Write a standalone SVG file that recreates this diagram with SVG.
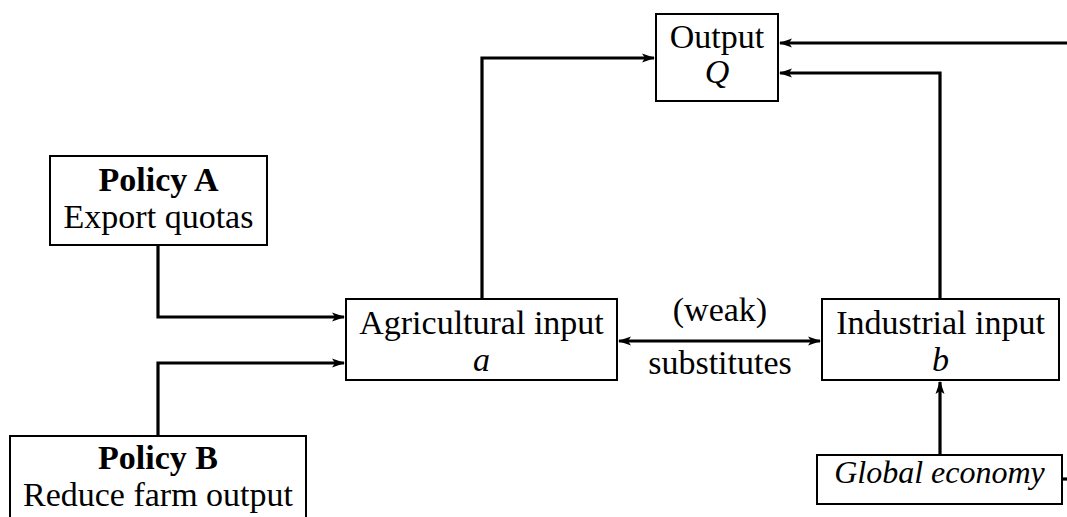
<svg xmlns="http://www.w3.org/2000/svg" width="1067" height="517" viewBox="0 0 1067 517">
<style>
.box{fill:#fff;stroke:#000;stroke-width:2}
.t{font-family:"Liberation Serif","DejaVu Serif",serif;font-size:34px;fill:#000;text-anchor:middle}
.b{font-weight:bold}
.i{font-style:italic}
.g{font-size:32px}
.c{fill:none;stroke:#000;stroke-width:3.2}
.e{marker-end:url(#ah)}
.s{marker-start:url(#ah)}
</style>
<defs>
<marker id="ah" viewBox="0 0 13 10" markerWidth="13" markerHeight="10" refX="12" refY="5" orient="auto-start-reverse" markerUnits="userSpaceOnUse">
<path d="M0,0.5 L13,5 L0,9.5 L3,5 Z" fill="#000"/>
</marker>
</defs>
<g id="connectors">
<polyline class="c e" points="1067,43 780,43"/>
<polyline class="c e" points="940,298 940,73 780,73"/>
<polyline class="c e" points="482,298 482,58 654,58"/>
<polyline class="c e" points="158,245 158,317 344,317"/>
<polyline class="c e" points="158,436 158,363 344,363"/>
<line class="c e s" x1="619" y1="341" x2="820" y2="341"/>
<polyline class="c e" points="940,455 940,382"/>
<line class="c" x1="1062" y1="479" x2="1067" y2="479"/>
</g>
<g id="output">
<rect class="box" x="656" y="14" width="122" height="87"/>
<text class="t" x="717" y="48">Output</text>
<text class="t i" x="717" y="83">Q</text>
</g>
<g id="policyA">
<rect class="box" x="50" y="156" width="217" height="89"/>
<text class="t b" x="158.5" y="191">Policy A</text>
<text class="t" x="158.5" y="228">Export quotas</text>
</g>
<g id="policyB">
<rect class="box" x="10" y="436" width="296" height="90"/>
<text class="t b" x="158" y="469">Policy B</text>
<text class="t" x="158" y="506">Reduce farm output</text>
</g>
<g id="agri">
<rect class="box" x="346" y="299" width="271" height="81"/>
<text class="t" x="481.5" y="334">Agricultural input</text>
<text class="t i" x="481.5" y="371">a</text>
</g>
<g id="weak">
<text class="t" x="720" y="321">(weak)</text>
<text class="t" x="720" y="374">substitutes</text>
</g>
<g id="industrial">
<rect class="box" x="822" y="299" width="237" height="81"/>
<text class="t" x="940.5" y="334">Industrial input</text>
<text class="t i" x="940.5" y="371">b</text>
</g>
<g id="global">
<rect class="box" x="817" y="455" width="245" height="49"/>
<text class="t i g" x="939.5" y="483">Global economy</text>
</g>
</svg>
